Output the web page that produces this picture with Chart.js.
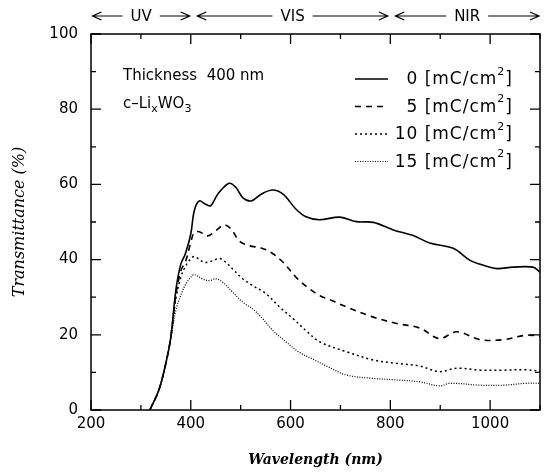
<!DOCTYPE html>
<html>
<head>
<meta charset="utf-8">
<script src="https://cdn.jsdelivr.net/npm/chart.js@4.4.1/dist/chart.umd.min.js"></script>
<style>
  html, body { margin: 0; padding: 0; background: #fff; }
  #wrap { width: 547px; height: 473px; }
</style>
</head>
<body>
<div id="wrap"><canvas id="chart" width="547" height="473"></canvas></div>
<script>
// wavelength (nm) / transmittance (%)
const wl0 = [318, 336, 350, 360, 370, 380, 389, 400, 407, 417, 430, 440, 454, 477, 491, 504, 521, 541, 564, 585, 611, 631, 658, 699, 732, 766, 806, 846, 879, 926, 960, 986, 1013, 1046, 1086, 1100];
const t0 = [0, 5.3, 12.4, 19.4, 31.8, 38.8, 41.5, 46.8, 53, 55.6, 54.7, 54.3, 57.4, 60.3, 59.1, 56.5, 55.6, 57.4, 58.5, 57.4, 53.4, 51.4, 50.6, 51.3, 50.1, 49.9, 47.9, 46.4, 44.4, 43, 39.8, 38.5, 37.6, 38, 38, 36.7];

const wl5 = [318, 336, 350, 360, 370, 380, 390, 400, 407, 417, 434, 450, 467, 481, 497, 517, 541, 561, 585, 611, 638, 659, 685, 712, 766, 813, 859, 898, 933, 980, 1026, 1073, 1100];
const t5 = [0, 5.3, 12.4, 19.4, 30.5, 37, 39.7, 44.6, 47.2, 47.4, 46.3, 47.7, 49.2, 48.1, 45, 43.7, 43.1, 41.9, 39.3, 35.3, 32.2, 30.4, 29, 27.4, 24.7, 23, 21.8, 19, 20.8, 18.7, 18.7, 19.9, 19.6];

const wl10 = [318, 336, 350, 360, 370, 380, 390, 400, 407, 427, 444, 457, 470, 484, 504, 524, 551, 578, 605, 632, 659, 712, 766, 813, 859, 898, 933, 980, 1026, 1073, 1100];
const t10 = [0, 5.3, 12.4, 19.4, 29.5, 35.3, 38.4, 40.2, 40.8, 39.3, 39.7, 40.3, 39.3, 37.5, 34.9, 33.1, 30.9, 27.4, 24.3, 21, 18.1, 15.5, 13.3, 12.4, 11.7, 10.2, 11.1, 10.6, 10.6, 10.7, 10.3];

const wl15 = [318, 336, 350, 360, 370, 380, 390, 400, 407, 423, 437, 450, 464, 484, 504, 524, 544, 564, 591, 618, 645, 675, 712, 766, 813, 859, 898, 920, 980, 1026, 1073, 1100];
const t15 = [0, 5.3, 12.4, 19, 26.5, 30.5, 33.5, 35.3, 36, 34.9, 34.4, 34.9, 34, 31.3, 28.7, 26.9, 24.3, 21.2, 18.1, 15.3, 13.5, 11.5, 9.3, 8.4, 8, 7.5, 6.4, 7.1, 6.6, 6.6, 7.1, 7.1];

const chargeLabels = ['0 [mC/cm²]', '5 [mC/cm²]', '10 [mC/cm²]', '15 [mC/cm²]'];
const dashes = [[], [6, 5], [2, 3], [1, 1.5]];
const widths = [1.6, 1.6, 1.5, 1.2];

// spectral bands shown above the frame
const bandNames = ['UV', 'VIS', 'NIR'];
const bandFrom = [203, 413, 810];
const bandTo = [398, 795, 1098];

function pts(xs, ys) {
    return xs.map((x, i) => ({ x: x, y: ys[i] }));
}

const series = [pts(wl0, t0), pts(wl5, t5), pts(wl10, t10), pts(wl15, t15)];

const FONT = "'DejaVu Sans', sans-serif";

// frame, inward ticks on all four sides, legend, notes and band arrows
const decor = {
    id: 'decor',
    afterDraw(chart) {
        const ctx = chart.ctx;
        const a = chart.chartArea;
        const xs = chart.scales.x, ys = chart.scales.y;
        ctx.save();
        ctx.strokeStyle = '#000';
        ctx.lineWidth = 1.5;
        ctx.setLineDash([]);
        ctx.strokeRect(a.left, a.top, a.right - a.left, a.bottom - a.top);

        ctx.lineWidth = 1.3;
        ctx.beginPath();
        for (let v = 200; v <= 1100; v += 100) {
            const px = xs.getPixelForValue(v);
            const len = v % 200 === 0 ? 10 : 5;
            ctx.moveTo(px, a.bottom); ctx.lineTo(px, a.bottom - len);
            ctx.moveTo(px, a.top); ctx.lineTo(px, a.top + len);
        }
        for (let v = 0; v <= 100; v += 10) {
            const py = ys.getPixelForValue(v);
            const len = v % 20 === 0 ? 10 : 5;
            ctx.moveTo(a.left, py); ctx.lineTo(a.left + len, py);
            ctx.moveTo(a.right, py); ctx.lineTo(a.right - len, py);
        }
        ctx.stroke();

        // legend
        ctx.fillStyle = '#000';
        ctx.textBaseline = 'middle';
        chart.data.datasets.forEach((ds, i) => {
            const y = 79 + i * 27.5;
            ctx.lineWidth = ds.borderWidth;
            ctx.setLineDash(ds.borderDash);
            ctx.beginPath();
            ctx.moveTo(355, y); ctx.lineTo(388, y);
            ctx.stroke();
            ctx.setLineDash([]);
            const parts = ds.label.split('²');
            ctx.textAlign = 'right';
            ctx.letterSpacing = '1px';
            ctx.font = '17px ' + FONT;
            const tail = parts[1];
            const tailW = ctx.measureText(tail).width;
            ctx.fillText(tail, 513, y + 1);
            ctx.font = '11px ' + FONT;
            const supW = ctx.measureText('2').width;
            ctx.fillText('2', 513 - tailW, y - 7);
            ctx.font = '17px ' + FONT;
            ctx.fillText(parts[0], 513 - tailW - supW, y + 1);
            ctx.letterSpacing = '0px';
        });

        // notes
        ctx.textAlign = 'left';
        ctx.font = '15px ' + FONT;
        ctx.fillText('Thickness  400 nm', 123, 76);
        let x = 123;
        const drawPiece = (t, size, dy) => {
            ctx.font = size + 'px ' + FONT;
            ctx.fillText(t, x, 104 + dy);
            x += ctx.measureText(t).width;
        };
        drawPiece('c\u2013Li', 15, 0);
        drawPiece('x', 11, 5);
        drawPiece('WO', 15, 0);
        drawPiece('3', 11, 5);

        // band arrows
        ctx.font = '15px ' + FONT;
        ctx.textAlign = 'center';
        ctx.lineWidth = 1.2;
        const ay = 16;
        bandNames.forEach((name, i) => {
            const x1 = xs.getPixelForValue(bandFrom[i]);
            const x2 = xs.getPixelForValue(bandTo[i]);
            const mid = (x1 + x2) / 2;
            const half = ctx.measureText(name).width / 2 + 8;
            ctx.fillText(name, mid, ay + 1);
            ctx.beginPath();
            ctx.moveTo(x1, ay); ctx.lineTo(mid - half, ay);
            ctx.moveTo(mid + half, ay); ctx.lineTo(x2, ay);
            ctx.moveTo(x1 + 9, ay - 4); ctx.lineTo(x1, ay); ctx.lineTo(x1 + 9, ay + 4);
            ctx.moveTo(x2 - 9, ay - 4); ctx.lineTo(x2, ay); ctx.lineTo(x2 - 9, ay + 4);
            ctx.stroke();
        });
        ctx.restore();
    }
};

new Chart(document.getElementById('chart').getContext('2d'), {
    type: 'line',
    data: {
        datasets: series.map((d, i) => ({
            label: chargeLabels[i],
            data: d,
            borderColor: '#000',
            borderWidth: widths[i],
            borderDash: dashes[i],
            pointRadius: 0,
            tension: 0.35,
            fill: false
        }))
    },
    options: {
        responsive: false,
        animation: false,
        layout: { padding: { top: 34, right: 7, left: 0, bottom: 0 } },
        plugins: {
            legend: { display: false },
            tooltip: { enabled: false }
        },
        scales: {
            x: {
                type: 'linear',
                min: 200,
                max: 1100,
                grid: { display: false, drawTicks: false },
                border: { display: false },
                afterFit(scale) { scale.height = 63; },
                ticks: {
                    stepSize: 100,
                    padding: 5,
                    autoSkip: false,
                    color: '#000',
                    font: { family: FONT, size: 15 },
                    maxRotation: 0,
                    callback: v => (v % 200 === 0) ? String(v) : ''
                },
                title: {
                    display: true,
                    text: 'Wavelength (nm)',
                    color: '#000',
                    font: { family: "'DejaVu Serif', serif", size: 14, style: 'italic', weight: 'bold' },
                    padding: { top: 14 }
                }
            },
            y: {
                min: 0,
                max: 100,
                grid: { display: false, drawTicks: false },
                border: { display: false },
                afterFit(scale) { scale.width = 91; },
                ticks: {
                    stepSize: 20,
                    padding: 13,
                    color: '#000',
                    font: { family: FONT, size: 15 }
                },
                title: {
                    display: true,
                    text: 'Transmittance (%)',
                    color: '#000',
                    font: { family: "'DejaVu Serif', serif", size: 16, style: 'italic' },
                    padding: { top: 10, bottom: 4 }
                }
            }
        }
    },
    plugins: [decor]
});
</script>
</body>
</html>
